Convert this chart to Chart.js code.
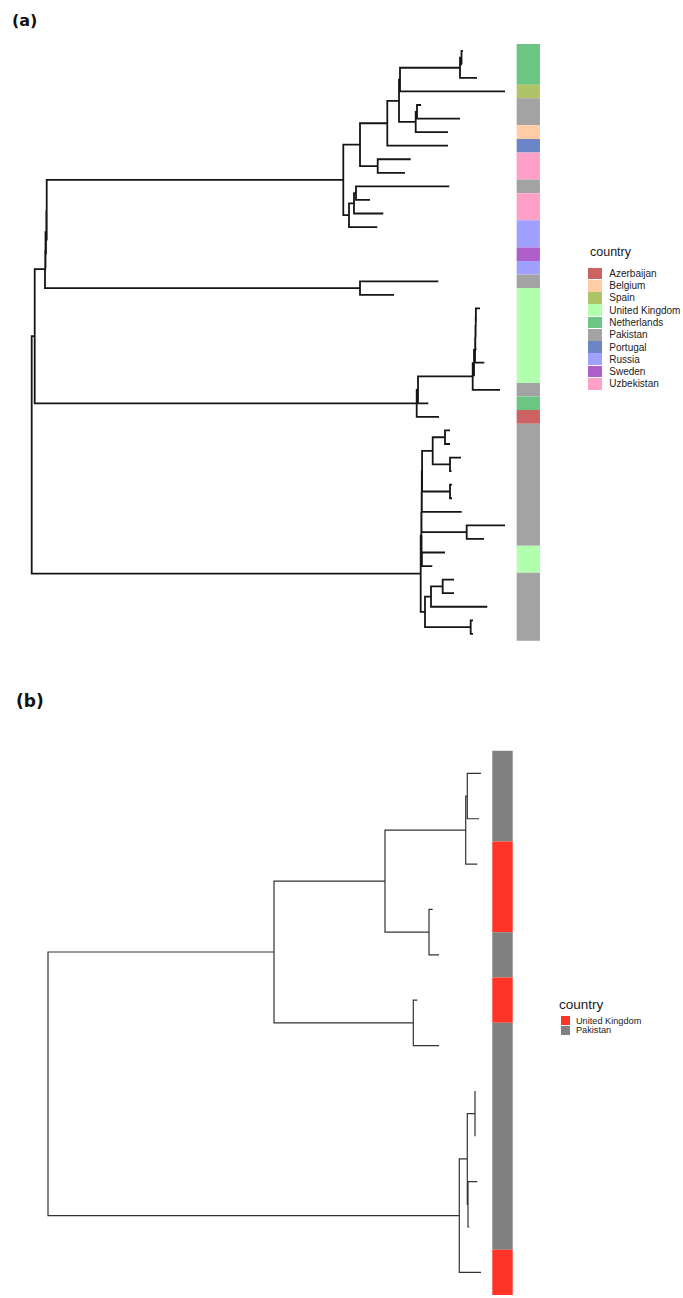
<!DOCTYPE html>
<html>
<head>
<meta charset="utf-8">
<script src="https://cdn.jsdelivr.net/npm/chart.js@4.4.1/dist/chart.umd.min.js"></script>
<style>
  body { margin: 0; background: #fff; width: 683px; height: 1298px; position: relative; overflow: hidden;
         font-family: "Liberation Sans", Arial, sans-serif; }
  canvas { position: absolute; }
  .tag { position: absolute; font-family: "DejaVu Sans", sans-serif; font-weight: bold; line-height: 1; color: #111; }
  .legend { position: absolute; color: #222; }
  .legend .ttl { position: absolute; white-space: nowrap; line-height: 1; color: #1a1a1a; }
  .legend .row { position: absolute; display: flex; align-items: center; white-space: nowrap; }
  .legend .sw { flex: none; }
</style>
</head>
<body>
<div class="tag" style="left:12px; top:12.7px; font-size:16px;">(a)</div>
<div class="tag" style="left:16px; top:693px; font-size:17px;">(b)</div>
<canvas id="treeA" width="560" height="625" style="left:0; top:30px;"></canvas>
<canvas id="treeB" width="530" height="558" style="left:0; top:740px;"></canvas>
<div class="legend" id="legA"></div>
<div class="legend" id="legB"></div>
<script>
// (a) country of every tip, top to bottom
var tipsA = ['Netherlands', 'Netherlands', 'Netherlands', 'Spain', 'Pakistan', 'Pakistan', 'Belgium', 'Portugal',
  'Uzbekistan', 'Uzbekistan', 'Pakistan', 'Uzbekistan', 'Uzbekistan', 'Russia', 'Russia', 'Sweden', 'Russia', 'Pakistan',
  'United Kingdom', 'United Kingdom', 'United Kingdom', 'United Kingdom', 'United Kingdom', 'United Kingdom', 'United Kingdom',
  'Pakistan', 'Netherlands', 'Azerbaijan',
  'Pakistan', 'Pakistan', 'Pakistan', 'Pakistan', 'Pakistan', 'Pakistan', 'Pakistan', 'Pakistan', 'Pakistan',
  'United Kingdom', 'United Kingdom',
  'Pakistan', 'Pakistan', 'Pakistan', 'Pakistan', 'Pakistan'];
var countriesA = ['Azerbaijan', 'Belgium', 'Spain', 'United Kingdom', 'Netherlands', 'Pakistan', 'Portugal', 'Russia', 'Sweden', 'Uzbekistan'];

// (a) tree: [node depth, child, child] , a tip is just its depth (tips in order)
var cladeW = [311.6,
  [328.3,
    [355.6,
      [367.3,
        [368.3, [428.3, [429.8, 431.3, 430.3], 445.3], 473.3],
        [384, [385.3, 389.3, 428.3], 416.3]],
      416.3],
    [346, 379, 373.3]],
  [317.3, [322.3, [324.3, 417.6, 338.3], 351.6], 345.6]];
var cladeP = [385,
  [386.3,
    [441, [442.3, [443.3, [443.6, [443.9, [444.2, 448.3, 444.8], 444.8], 444.8], 452.6], 442.3], 468.3],
    396.6],
  407.3];
var cladeB = [389,
  [389.5,
    [389.8,
      [390.1,
        [390.4,
          [401, [413.3, 418.3, 418.3], [418.3, 429.3, 419.8]],
          [418.3, 420.3, 420.3]],
        430],
      [435, 473.3, 452.3]],
    [390.2, 413.3, 400.6]],
  [393.3, [399.3, [411, 422.3, 422.3], 455.6], [439, 441.3, 441.3]]];
var treeA = [0,
  [3,
    [13.3, [13.8, [14.3, [15, cladeW, 15], 14.3], 13.8], [328.3, 406.6, 362.3]],
    cladeP],
  cladeB];

// (b)
var tipsB = ['Pakistan', 'Pakistan', 'United Kingdom', 'United Kingdom', 'Pakistan', 'United Kingdom',
  'Pakistan', 'Pakistan', 'Pakistan', 'Pakistan', 'Pakistan', 'United Kingdom'];
var countriesB = ['United Kingdom', 'Pakistan'];
var treeB = [0,
  [226,
    [337,
      [417.7, [419.3, 433, 431], 429.3],
      [381, 384.7, 391]],
    [365.3, 369.3, 391]],
  [411.3,
    [419.3, [427, 427, 427], [420, 429.3, 421.3]],
    433]];

var paletteA = {
  'Azerbaijan': '#cc6262', 'Belgium': '#ffcca8', 'Spain': '#aec466', 'United Kingdom': '#b3ffb0',
  'Netherlands': '#6cc583', 'Pakistan': '#a3a3a3', 'Portugal': '#6b85c7', 'Russia': '#a0a0ff',
  'Sweden': '#b05ec8', 'Uzbekistan': '#ffa0c8'
};
var paletteB = { 'United Kingdom': '#ff3326', 'Pakistan': '#808080' };

// elbow lines for every branch, NaN breaks the line between branches
function treeLines(tree) {
  var pts = [];
  var tip = 0;
  function walk(node) {
    if (typeof node === 'number') return { x: node, y: tip++ };
    var kids = node.slice(1).map(walk);
    var ys = kids.map(function (k) { return k.y; });
    var y = (Math.min.apply(null, ys) + Math.max.apply(null, ys)) / 2;
    var x = node[0];
    kids.forEach(function (k) {
      pts.push({ x: x, y: y }, { x: x, y: k.y }, { x: k.x, y: k.y }, { x: NaN, y: NaN });
    });
    return { x: x, y: y };
  }
  walk(tree);
  return pts;
}

function drawPanel(id, tree, tips, palette, o) {
  var stripPts = [];
  for (var i = 0; i <= tips.length; i++) stripPts.push({ x: o.stripX - o.root, y: i - 0.5 });
  var yMin = -0.5 - (o.stripTop - o.top) / o.unit;
  new Chart(document.getElementById(id), {
    type: 'line',
    data: {
      datasets: [{
        data: treeLines(tree),
        borderColor: o.lineColor,
        borderWidth: o.lineW,
        borderJoinStyle: 'miter',
        borderCapStyle: 'butt',
        pointRadius: 0,
        spanGaps: false,
        tension: 0
      }, {
        data: stripPts,
        borderWidth: o.stripW,
        borderCapStyle: 'butt',
        borderColor: palette[tips[0]],
        segment: { borderColor: function (ctx) { return palette[tips[ctx.p0DataIndex]]; } },
        pointRadius: 0,
        tension: 0
      }]
    },
    options: {
      responsive: false,
      animation: false,
      events: [],
      layout: { padding: 0 },
      plugins: { legend: { display: false }, tooltip: { enabled: false } },
      scales: {
        x: { type: 'linear', display: false, min: -o.root, max: o.w - o.root },
        y: { type: 'linear', display: false, reverse: true, min: yMin, max: yMin + o.h / o.unit }
      }
    }
  });
}

drawPanel('treeA', treeA, tipsA, paletteA, {
  top: 30, w: 560, h: 625, root: 31.7, stripTop: 44, unit: 13.56,
  stripX: 528.3, stripW: 23.3, lineW: 1.8, lineColor: '#151515'
});
drawPanel('treeB', treeB, tipsB, paletteB, {
  top: 740, w: 530, h: 558, root: 48, stripTop: 750.7, unit: 45.36,
  stripX: 502.5, stripW: 20.4, lineW: 1.2, lineColor: '#333333'
});

function legend(id, names, palette, o) {
  var box = document.getElementById(id);
  var t = document.createElement('div');
  t.className = 'ttl';
  t.textContent = 'country';
  t.style.left = o.titleX + 'px';
  t.style.top = o.titleY + 'px';
  t.style.fontSize = o.titleSize + 'px';
  box.appendChild(t);
  names.forEach(function (n, i) {
    var r = document.createElement('div');
    r.className = 'row';
    r.style.left = o.x + 'px';
    r.style.top = (o.y + i * o.rowH) + 'px';
    r.style.height = o.rowH + 'px';
    r.style.fontSize = o.size + 'px';
    var s = document.createElement('div');
    s.className = 'sw';
    s.style.width = o.swW + 'px';
    s.style.height = o.swH + 'px';
    s.style.background = palette[n];
    s.style.marginRight = o.gap + 'px';
    var l = document.createElement('span');
    l.textContent = n;
    r.appendChild(s);
    r.appendChild(l);
    box.appendChild(r);
  });
}
legend('legA', countriesA, paletteA, {
  titleX: 590, titleY: 246, titleSize: 12.5,
  x: 588.3, y: 267.3, rowH: 12.27, swW: 14, swH: 11.8, gap: 7, size: 10
});
legend('legB', countriesB, paletteB, {
  titleX: 559, titleY: 998, titleSize: 13.5,
  x: 560.7, y: 1016, rowH: 9.5, swW: 9.3, swH: 9.3, gap: 6, size: 9.2
});
</script>
</body>
</html>
